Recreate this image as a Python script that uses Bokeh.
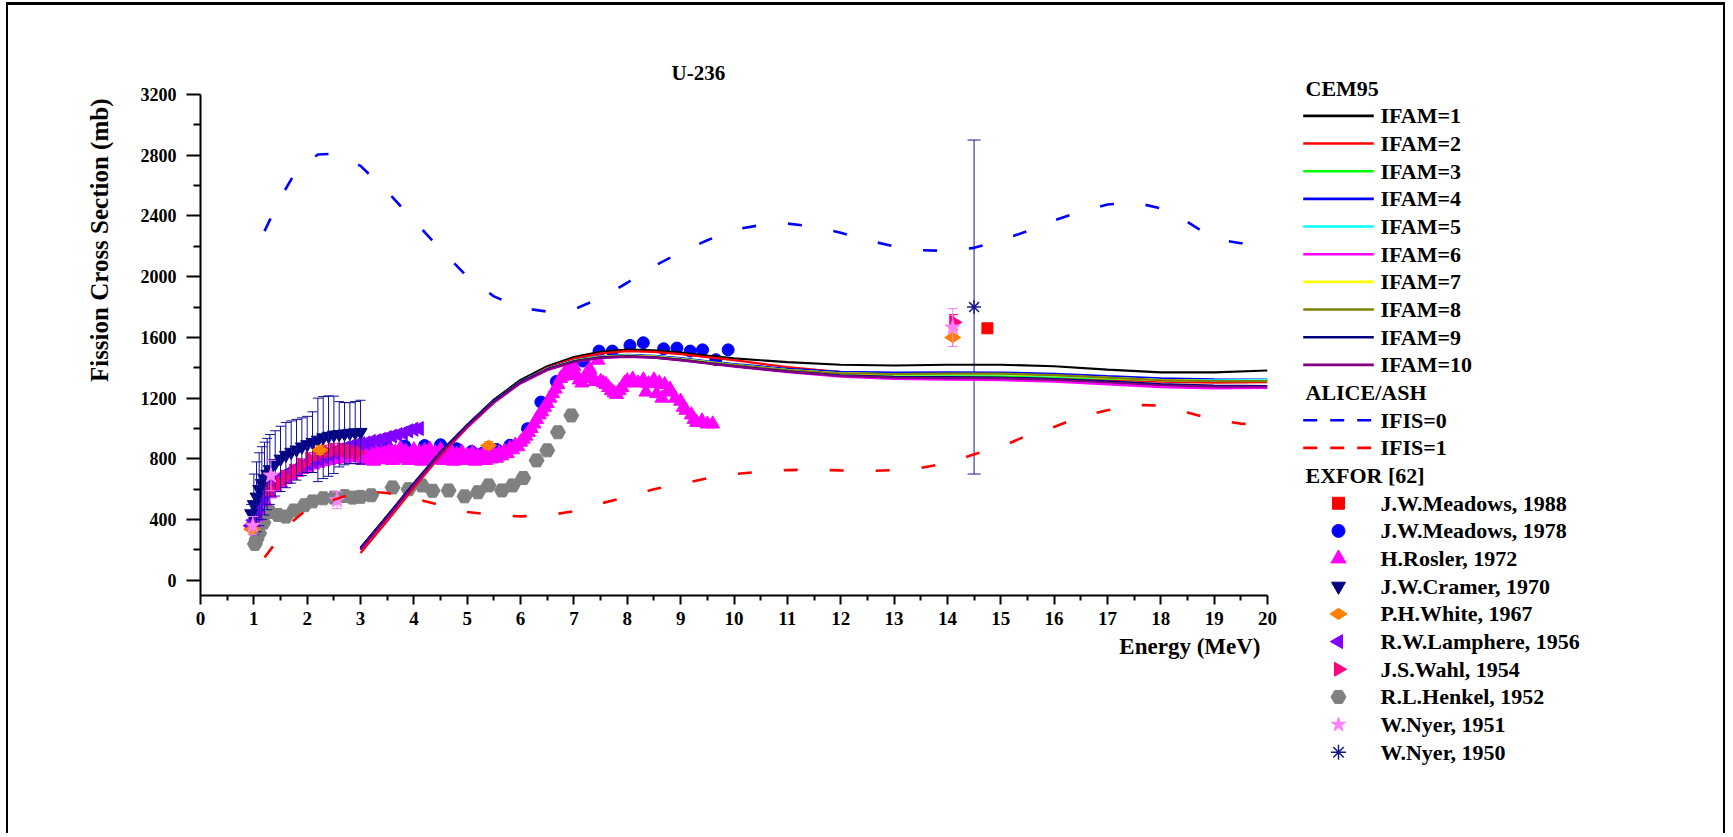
import math
from bokeh.plotting import figure
from bokeh.models import Range1d, FixedTicker, Title, Div
from bokeh.core.properties import value
from bokeh.embed import file_html
from bokeh.resources import INLINE

FONT = "Liberation Serif"

# ---------------- CEM95 curves (IFAM = 1..10) ----------------
cem_x = [3, 3.5, 4, 4.5, 5, 5.5, 6, 6.5, 7, 7.5, 8, 8.5, 9, 9.5, 10, 11, 12, 13, 14, 15, 16, 17, 18, 19, 20]
ifam1 = [215, 425, 640, 845, 1025, 1190, 1320, 1410, 1470, 1505, 1520, 1515, 1500, 1480, 1462, 1437, 1420, 1415, 1420, 1420, 1410, 1388, 1370, 1370, 1382]
ifam2 = [180, 390, 610, 820, 1005, 1170, 1305, 1400, 1460, 1495, 1510, 1505, 1490, 1470, 1450, 1405, 1372, 1358, 1352, 1348, 1338, 1322, 1308, 1302, 1306]
ifam3 = [205, 415, 632, 838, 1018, 1178, 1305, 1392, 1445, 1472, 1482, 1476, 1460, 1440, 1420, 1386, 1362, 1352, 1350, 1347, 1340, 1329, 1319, 1316, 1319]
ifam4 = [210, 420, 637, 842, 1022, 1182, 1309, 1396, 1449, 1475, 1485, 1479, 1463, 1443, 1425, 1393, 1373, 1368, 1370, 1369, 1360, 1345, 1331, 1323, 1322]
ifam5 = [208, 418, 635, 840, 1020, 1180, 1307, 1394, 1447, 1473, 1482, 1476, 1459, 1439, 1419, 1386, 1364, 1357, 1357, 1356, 1347, 1333, 1321, 1317, 1320]
ifam6 = [200, 408, 625, 830, 1010, 1170, 1297, 1384, 1437, 1464, 1472, 1466, 1449, 1429, 1408, 1371, 1342, 1327, 1321, 1318, 1308, 1290, 1272, 1264, 1267]
ifam7 = [207, 417, 634, 839, 1019, 1179, 1306, 1393, 1446, 1472, 1480, 1473, 1457, 1437, 1418, 1385, 1363, 1357, 1358, 1358, 1349, 1334, 1319, 1313, 1314]
ifam8 = [206, 416, 633, 838, 1018, 1178, 1305, 1392, 1445, 1471, 1479, 1472, 1456, 1436, 1417, 1385, 1364, 1359, 1361, 1361, 1351, 1335, 1319, 1312, 1312]
ifam9 = [212, 422, 638, 843, 1023, 1181, 1306, 1391, 1442, 1468, 1476, 1468, 1452, 1431, 1411, 1376, 1350, 1340, 1338, 1336, 1326, 1310, 1292, 1282, 1280]
ifam10 = [203, 412, 628, 834, 1014, 1174, 1300, 1387, 1439, 1466, 1474, 1467, 1450, 1430, 1410, 1374, 1346, 1335, 1332, 1330, 1320, 1303, 1285, 1276, 1275]
ifam_labels = ["IFAM=1", "IFAM=2", "IFAM=3", "IFAM=4", "IFAM=5", "IFAM=6", "IFAM=7", "IFAM=8", "IFAM=9", "IFAM=10"]
ifam_colors = ["#000000", "#FF0000", "#00FF00", "#0000FF", "#00FFFF", "#FF00FF", "#FFFF00", "#808000", "#000080", "#800080"]

# ---------------- ALICE/ASH curves ----------------
ifis0_x = [1.2, 1.5, 1.8, 2.2, 2.5, 3.0, 3.5, 4.0, 4.5, 5.0, 5.5, 6.0, 6.5, 7.0, 7.5, 8.0, 8.5, 9.0, 9.5, 10, 10.5, 11, 11.5, 12, 12.5, 13, 13.5, 14, 14.5, 15, 15.5, 16, 16.5, 17, 17.5, 18, 18.5, 19, 19.5, 20]
ifis0_y = [2300, 2520, 2700, 2805, 2810, 2730, 2560, 2370, 2180, 2000, 1870, 1795, 1770, 1785, 1860, 1960, 2070, 2160, 2240, 2310, 2340, 2350, 2330, 2290, 2240, 2200, 2175, 2170, 2190, 2240, 2300, 2370, 2430, 2475, 2490, 2450, 2360, 2250, 2220, 2225]
ifis1_x = [1.2, 1.5, 1.7, 2.0, 2.3, 2.5, 3.0, 3.5, 4.0, 4.5, 5.0, 5.5, 6.0, 6.5, 7.0, 7.5, 8.0, 8.5, 9.0, 9.5, 10, 10.5, 11, 11.5, 12, 12.5, 13, 13.5, 14, 14.5, 15, 15.5, 16, 16.5, 17, 17.5, 18, 18.5, 19, 19.5, 20]
ifis1_y = [150, 290, 380, 470, 515, 530, 588, 575, 540, 495, 450, 430, 421, 428, 455, 506, 550, 600, 635, 672, 700, 716, 726, 729, 724, 720, 726, 740, 772, 830, 878, 955, 1010, 1080, 1120, 1156, 1150, 1105, 1060, 1032, 1025]
alice_labels = ["IFIS=0", "IFIS=1"]
alice_colors = ["#0000FF", "#FF0000"]

# ---------------- EXFOR data ----------------
meadows88_x = [14.75]
meadows88_y = [1660]

meadows78_x = [3.15, 3.5, 3.83, 4.2, 4.5, 4.8, 5.08, 5.3, 5.55, 5.8, 6.13, 6.38, 6.67, 7.17, 7.47, 7.72, 8.05, 8.3, 8.68, 8.93, 9.18, 9.41, 9.66, 9.89]
meadows78_y = [885, 877, 884, 888, 893, 867, 849, 840, 862, 890, 999, 1174, 1310, 1444, 1510, 1510, 1547, 1565, 1525, 1530, 1510, 1518, 1453, 1518]

rosler_x = [0.95, 1.0, 1.05, 1.1, 1.2, 1.3, 1.4, 1.5, 1.6, 1.7, 1.8, 1.9, 2.0, 2.1, 2.2, 2.3, 2.4, 2.5, 2.6, 2.7, 2.8, 2.9,
            3.0, 3.05, 3.1, 3.15, 3.2, 3.25, 3.3, 3.35, 3.4, 3.45, 3.5, 3.55, 3.6, 3.65, 3.7, 3.75, 3.8, 3.85, 3.9, 3.95,
            4.0, 4.05, 4.1, 4.15, 4.2, 4.25, 4.3, 4.35, 4.4, 4.45, 4.5, 4.55, 4.6, 4.65, 4.7, 4.75, 4.8, 4.85, 4.9, 4.95,
            5.0, 5.05, 5.1, 5.15, 5.2, 5.25, 5.3, 5.35, 5.4, 5.45, 5.5, 5.55, 5.6, 5.65, 5.7, 5.75, 5.8, 5.85, 5.9, 5.95,
            6.0, 6.05, 6.1, 6.15, 6.2, 6.25, 6.3, 6.35, 6.4, 6.45, 6.5, 6.55, 6.6, 6.65, 6.7, 6.75, 6.8, 6.85, 6.9, 6.95,
            7.0, 7.05, 7.1, 7.15, 7.2, 7.25, 7.3, 7.35, 7.4, 7.45, 7.5, 7.55, 7.6, 7.65, 7.7, 7.75, 7.8, 7.85, 7.9, 7.95,
            8.0, 8.1, 8.2, 8.3, 8.35, 8.4, 8.5, 8.55, 8.6, 8.65, 8.7, 8.75, 8.8, 8.9, 9.0, 9.05, 9.1, 9.2, 9.25, 9.3, 9.4, 9.5, 9.6]
rosler_y = [360, 380, 420, 460, 520, 570, 610, 640, 665, 690, 710, 730, 745, 760, 772, 782, 790, 796, 800, 805, 808, 810,
            820, 790, 850, 800, 860, 785, 830, 860, 795, 840, 810, 865, 790, 845, 815, 870, 800, 850, 790, 835,
            860, 800, 845, 785, 855, 815, 865, 795, 840, 805, 860, 790, 835, 810, 850, 785, 830, 800, 845, 790,
            825, 800, 840, 785, 820, 795, 835, 790, 815, 800, 830, 805, 840, 820, 850, 835, 870, 860, 890, 880,
            910, 930, 950, 975, 1000, 1030, 1060, 1090, 1110, 1140, 1165, 1200, 1230, 1260, 1290, 1330, 1345, 1380, 1360, 1400,
            1410, 1350, 1320, 1300, 1330, 1370, 1390, 1340, 1310, 1450, 1310, 1300, 1290, 1270, 1250, 1235, 1225, 1250, 1270, 1300,
            1315, 1325, 1300, 1320, 1240, 1295, 1320, 1230, 1300, 1200, 1290, 1240, 1260, 1200, 1180, 1140, 1120, 1090, 1060, 1040, 1050, 1030, 1030]

cramer_x = [0.95, 1.0, 1.05, 1.1, 1.15, 1.2, 1.25, 1.3, 1.4, 1.5, 1.6, 1.7, 1.8, 1.9, 2.0, 2.1, 2.2, 2.3, 2.4, 2.5, 2.6, 2.7, 2.8, 2.9, 3.0]
cramer_y = [440, 500, 550, 600, 640, 670, 700, 730, 770, 800, 825, 845, 860, 880, 895, 910, 925, 940, 950, 958, 962, 966, 970, 973, 976]
cramer_err = [60, 200, 230, 240, 240, 240, 235, 230, 215, 215, 215, 205, 200, 190, 185, 200, 275, 270, 265, 255, 215, 205, 200, 205, 210]

white_x = [0.97, 2.24, 5.4, 14.1]
white_y = [335, 858, 888, 1600]
white_err = [30, 30, 25, 60]

lamphere_x = [0.95, 1.0, 1.05, 1.1, 1.15, 1.2, 1.3, 1.4, 1.5, 1.6, 1.7, 1.8, 1.9, 2.0, 2.1, 2.2, 2.3, 2.4, 2.5, 2.6, 2.7, 2.8, 2.9, 3.0, 3.1, 3.2, 3.3, 3.4, 3.5, 3.6, 3.7, 3.8, 3.9, 4.0, 4.1]
lamphere_y = [360, 395, 440, 490, 530, 570, 615, 650, 675, 700, 720, 740, 755, 770, 785, 800, 815, 830, 845, 860, 870, 880, 890, 900, 905, 915, 920, 930, 940, 950, 960, 970, 985, 995, 1000]

wahl_x = [1.3, 1.45, 1.6, 1.75, 1.9, 2.05, 2.2, 2.35, 2.5, 2.65, 2.8, 2.95, 14.12]
wahl_y = [600, 640, 680, 720, 760, 800, 830, 850, 860, 860, 850, 840, 1700]
wahl_err = [40, 40, 40, 40, 40, 40, 40, 40, 40, 40, 40, 40, 50]

henkel_x = [1.02, 1.05, 1.1, 1.18, 1.3, 1.45, 1.6, 1.75, 1.95, 2.1, 2.3, 2.5, 2.7, 2.85, 3.0, 3.2, 3.6, 3.9, 4.15, 4.35, 4.65, 4.95, 5.2, 5.4, 5.65, 5.85, 6.05, 6.3, 6.5, 6.7, 6.95]
henkel_y = [240, 270, 310, 380, 450, 430, 420, 460, 495, 520, 540, 545, 555, 545, 550, 560, 612, 600, 625, 590, 592, 553, 580, 625, 592, 625, 674, 790, 856, 975, 1086]

nyer51_x = [0.98, 1.32, 2.56, 14.1]
nyer51_y = [360, 690, 527, 1665]
nyer51_err = [60, 100, 55, 125]

nyer50_x = [14.5]
nyer50_y = [1800]
nyer50_err = [1100]

exfor_labels = ["J.W.Meadows, 1988", "J.W.Meadows, 1978", "H.Rosler, 1972", "J.W.Cramer, 1970", "P.H.White, 1967",
                "R.W.Lamphere, 1956", "J.S.Wahl, 1954", "R.L.Henkel, 1952", "W.Nyer, 1951", "W.Nyer, 1950"]
group_titles = ["CEM95", "ALICE/ASH", "EXFOR [62]"]

x_ticks = list(range(0, 21))
x_minor = [i + 0.5 for i in range(20)]
y_ticks = [0, 400, 800, 1200, 1600, 2000, 2400, 2800, 3200]
y_minor = [200, 600, 1000, 1400, 1800, 2200, 2600, 3000]

# marker styles for the EXFOR sets (same order as exfor_labels)
exfor_styles = [
    dict(marker="square", size=11, fill_color="#FF0000", line_color="#FF0000"),
    dict(marker="circle", size=12, fill_color="#0000FF", line_color="#0000FF"),
    dict(marker="triangle", size=14, fill_color="#FF00FF", line_color="#FF00FF"),
    dict(marker="inverted_triangle", size=13, fill_color="#000080", line_color="#000080"),
    dict(marker="diamond", size=16, angle=math.pi / 2, fill_color="#FF8000", line_color="#FF8000"),
    dict(marker="triangle", size=14, angle=math.pi / 2, fill_color="#8000FF", line_color="#8000FF"),
    dict(marker="triangle", size=14, angle=-math.pi / 2, fill_color="#FF0080", line_color="#FF0080"),
    dict(marker="hex", size=15, fill_color="#808080", line_color="#808080"),
    dict(marker="star", size=16, fill_color="#FF80FF", line_color="#FF80FF"),
    dict(marker="asterisk", size=14, line_color="#1A1A90", line_width=1.5),
]

# ---------------- main figure ----------------
H = 830
p = figure(width=1282, height=H, output_backend="svg", toolbar_location=None,
           x_range=Range1d(0, 20), y_range=Range1d(-100, 3200),
           min_border_left=192, min_border_right=23, min_border_top=89, min_border_bottom=240,
           background_fill_color="white", border_fill_color="white")
p.styles = {"position": "absolute", "left": "8px", "top": "5px"}
p.outline_line_color = None
p.xgrid.visible = False
p.ygrid.visible = False

p.xaxis.ticker = FixedTicker(ticks=x_ticks, minor_ticks=x_minor)
p.yaxis.ticker = FixedTicker(ticks=y_ticks, minor_ticks=y_minor)
for ax in (p.xaxis[0], p.yaxis[0]):
    ax.axis_line_width = 2
    ax.axis_line_color = "black"
    ax.major_tick_line_width = 2
    ax.minor_tick_line_width = 2
    ax.major_tick_in = 0
    ax.minor_tick_in = 0
    ax.major_label_text_font = FONT
    ax.major_label_text_font_style = "bold"
    ax.major_label_text_color = "black"
p.xaxis.major_tick_out = 9
p.xaxis.minor_tick_out = 5
p.xaxis.major_label_text_font_size = "19px"
p.xaxis.major_label_standoff = 7
p.yaxis.major_tick_out = 14
p.yaxis.minor_tick_out = 7
p.yaxis.major_label_text_font_size = "18px"
p.yaxis.major_label_standoff = 10

p.title.text = "U-236"
p.title.align = "left"
p.title.offset = 471
p.title.text_font = FONT
p.title.text_font_style = "bold"
p.title.text_font_size = "21px"
p.title.text_color = "black"
p.title.standoff = 20

p.add_layout(Title(text="Fission Cross Section (mb)", align="right", offset=4, standoff=50,
                   text_font=FONT, text_font_style="bold", text_font_size="25px", text_color="black"), "left")
p.add_layout(Title(text="Energy (MeV)", align="right", offset=7, standoff=8,
                   text_font=FONT, text_font_style="bold", text_font_size="23px", text_color="black"), "below")


def errbars(xs, ys, es, color, cap):
    lo = [y - e for y, e in zip(ys, es)]
    hi = [y + e for y, e in zip(ys, es)]
    p.segment(x0=xs, y0=lo, x1=xs, y1=hi, line_color=color, line_width=1)
    p.scatter(x=xs + xs, y=lo + hi, marker="dash", size=cap, line_color=color, line_width=1)


p.scatter(henkel_x, henkel_y, **exfor_styles[7])
p.scatter(meadows78_x, meadows78_y, **exfor_styles[1])
p.scatter(rosler_x, rosler_y, **exfor_styles[2])
p.scatter(lamphere_x, lamphere_y, **exfor_styles[5])
errbars(wahl_x, wahl_y, wahl_err, "#FF0080", 9)
p.scatter(wahl_x, wahl_y, **exfor_styles[6])
p.scatter(cramer_x, cramer_y, **exfor_styles[3])
errbars(cramer_x, cramer_y, cramer_err, "#10109A", 10)
errbars(white_x, white_y, white_err, "#FF8000", 9)
p.scatter(white_x, white_y, **exfor_styles[4])
errbars(nyer51_x, nyer51_y, nyer51_err, "#FF80FF", 10)
p.scatter(nyer51_x, nyer51_y, **exfor_styles[8])
errbars(nyer50_x, nyer50_y, nyer50_err, "#1A1A90", 13)
p.scatter(nyer50_x, nyer50_y, **exfor_styles[9])
p.scatter(meadows88_x, meadows88_y, **exfor_styles[0])

ifam_series = [ifam1, ifam2, ifam3, ifam4, ifam5, ifam6, ifam7, ifam8, ifam9, ifam10]
for ys, col in zip(ifam_series, ifam_colors):
    p.line(cem_x, ys, line_color=col, line_width=2.2)
p.line(ifis0_x, ifis0_y, line_color=alice_colors[0], line_width=2.6, line_dash="14 32")
p.line(ifis1_x, ifis1_y, line_color=alice_colors[1], line_width=2.6, line_dash="14 32")

# ---------------- legend panel (own pixel-scaled figure, placed right of the plot) ----------------
LX0, LX1 = 1290, 1727          # page x covered by the legend panel
LY0 = 5                        # page y of the panel top
q = figure(width=LX1 - LX0, height=H, output_backend="svg", toolbar_location=None, title=None,
           x_range=Range1d(LX0, LX1), y_range=Range1d(LY0 + H, LY0),
           x_axis_type=None, y_axis_type=None,
           min_border=0, min_border_left=0, min_border_right=0, min_border_top=0, min_border_bottom=0,
           background_fill_color="white", border_fill_color="white")
q.styles = {"position": "absolute", "left": f"{LX0}px", "top": f"{LY0}px"}
q.outline_line_color = None
q.xgrid.visible = False
q.ygrid.visible = False

ROW0, PITCH = 87.7, 27.67
G0, G1, GM, TX, HX = 1302.7, 1373.3, 1338.0, 1380.0, 1305.0


def row_y(k):
    return ROW0 + PITCH * k


txt = dict(text_font=value(FONT), text_font_style="bold", text_font_size="22px",
           text_baseline="middle", text_align="left", text_color="black")

head_rows = [0, 11, 14]
q.text(x=[HX] * 3, y=[row_y(k) for k in head_rows], text=group_titles, **txt)

cem_rows = list(range(1, 11))
q.multi_line(xs=[[G0, G1] for _ in cem_rows], ys=[[row_y(k), row_y(k)] for k in cem_rows],
             line_color=ifam_colors, line_width=2.6)
q.text(x=[TX] * 10, y=[row_y(k) for k in cem_rows], text=ifam_labels, **txt)

alice_rows = [12, 13]
for k, col in zip(alice_rows, alice_colors):
    q.line([G0, G1], [row_y(k), row_y(k)], line_color=col, line_width=2.6, line_dash="14 13")
q.text(x=[TX] * 2, y=[row_y(k) for k in alice_rows], text=alice_labels, **txt)

exfor_rows = list(range(15, 25))
leg_sizes = [12, 13, 15, 14, 17, 14, 14, 15, 15, 15]
for k, st, sz in zip(exfor_rows, exfor_styles, leg_sizes):
    s = dict(st)
    s["size"] = sz
    q.scatter([GM], [row_y(k)], **s)
q.text(x=[TX] * 10, y=[row_y(k) for k in exfor_rows], text=exfor_labels, **txt)

# outer frame of the picture (left, top and right edges)
frame = Div(text="", width=1719, height=831, margin=0,
            styles={"position": "absolute", "left": "6px", "top": "2px",
                    "border-top": "3px solid black", "border-left": "2px solid black",
                    "border-right": "2px solid black", "pointer-events": "none",
                    "background": "transparent", "margin": "0px", "padding": "0px"})

open("out.html", "w").write(file_html([p, q, frame], INLINE))
